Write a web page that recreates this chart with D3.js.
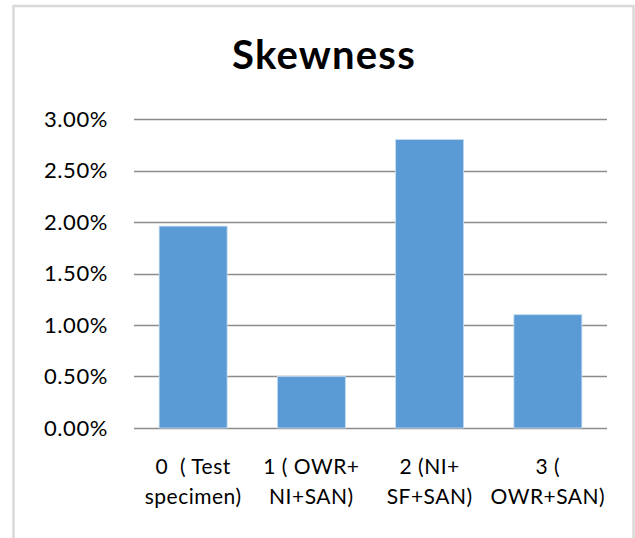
<!DOCTYPE html>
<html>
<head>
<meta charset="utf-8">
<script src="https://cdn.jsdelivr.net/npm/d3@7"></script>
<style>
  html, body { margin: 0; padding: 0; background: #fff; }
  svg { display: block; }
  text { font-family: Lato, "Open Sans", "Liberation Sans", sans-serif; fill: #000; white-space: pre; }
</style>
</head>
<body>
<svg id="chart" width="635" height="538"></svg>
<script>
// Skewness per specimen group
const categories = [
  ["0  ( Test", "specimen)"],
  ["1 ( OWR+", "NI+SAN)"],
  ["2 (NI+", "SF+SAN)"],
  ["3 (", "OWR+SAN)"]
];
const values = [0.0196, 0.0050, 0.0280, 0.0110];
const yTicks = [0, 0.005, 0.01, 0.015, 0.02, 0.025, 0.03];
const title = "Skewness";

const svg = d3.select("#chart");

// chart area frame
svg.append("rect")
  .attr("x", 13.5).attr("y", 6)
  .attr("width", 620).attr("height", 540)
  .attr("fill", "#fff")
  .attr("stroke", "#d9d9d9")
  .attr("stroke-width", 2.5);

const plot = { left: 134, right: 607, top: 119, bottom: 428 };

const x = d3.scaleBand()
  .domain(d3.range(categories.length))
  .range([plot.left, plot.right])
  .paddingInner(0.425)
  .paddingOuter(0.2125);

const y = d3.scaleLinear()
  .domain([0, 0.03])
  .range([plot.bottom, plot.top]);

// horizontal gridlines
svg.append("g")
  .selectAll("line")
  .data(yTicks)
  .join("line")
  .attr("x1", plot.left).attr("x2", plot.right)
  .attr("y1", d => Math.round(y(d)) + 0.5)
  .attr("y2", d => Math.round(y(d)) + 0.5)
  .attr("stroke", "#8c8c8c")
  .attr("stroke-width", 1.5);

// y tick labels
const fmt = d3.format(".2%");
svg.append("g")
  .selectAll("text")
  .data(yTicks)
  .join("text")
  .attr("x", 108)
  .attr("y", d => y(d))
  .attr("dy", "0.36em")
  .attr("text-anchor", "end")
  .attr("font-size", 22)
  .attr("letter-spacing", 0.6)
  .text(d => fmt(d));

// bars
svg.append("g")
  .selectAll("rect")
  .data(values)
  .join("rect")
  .attr("x", (d, i) => x(i))
  .attr("width", x.bandwidth())
  .attr("y", d => y(d))
  .attr("height", d => y(0) - y(d))
  .attr("fill", "#5b9bd5")
  .attr("stroke", "#c5dcf0")
  .attr("stroke-width", 0.8);

// category labels (two lines each)
const cat = svg.append("g")
  .selectAll("text")
  .data(categories)
  .join("text")
  .attr("text-anchor", "middle")
  .attr("font-size", 21)
  .attr("letter-spacing", 0.5);
cat.each(function(lines, i) {
  const t = d3.select(this);
  lines.forEach((ln, k) => {
    t.append("tspan")
      .attr("x", x(i) + x.bandwidth() / 2)
      .attr("y", 474 + k * 30)
      .text(ln);
  });
});

// title
svg.append("text")
  .attr("x", 324)
  .attr("y", 69)
  .attr("text-anchor", "middle")
  .attr("font-size", 40)
  .attr("font-weight", "bold")
  .attr("letter-spacing", 1.2)
  .text(title);
</script>
</body>
</html>
